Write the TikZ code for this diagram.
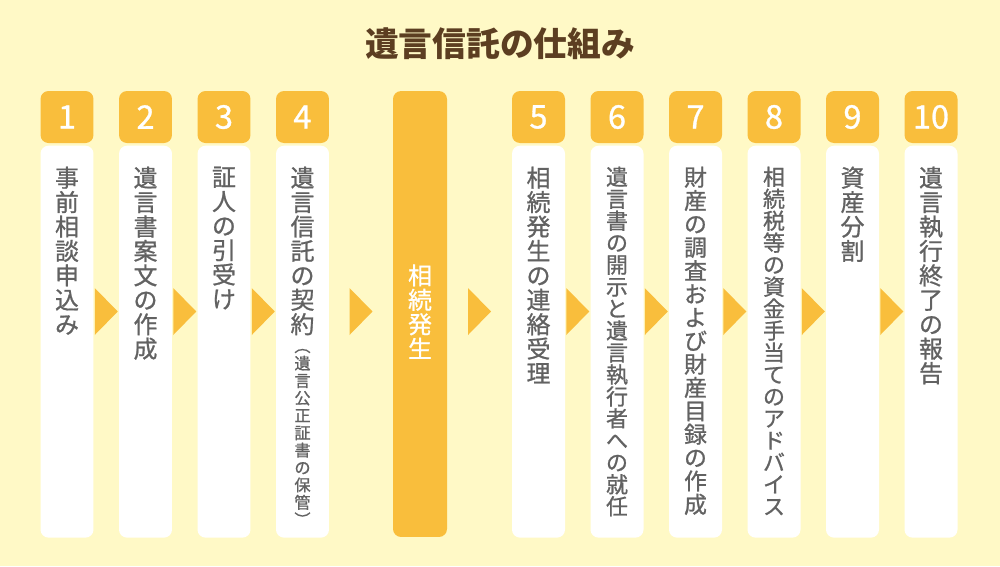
\documentclass[tikz,border=0pt]{standalone}
\usepackage{fontspec}
\setmainfont{Noto Sans CJK JP}
\newfontfamily\tatefont{Noto Sans CJK JP}[FakeBold=0.9]
\usetikzlibrary{positioning,calc}
\definecolor{bgyellow}{HTML}{FFF9C6}
\definecolor{steporange}{HTML}{F9BE3C}
\definecolor{textgray}{HTML}{626262}
\definecolor{titlebrown}{HTML}{5C3E21}
% one character per line, for vertical writing
\def\tateloop#1{\ifx#1\relax\else\hbox to 1.2em{\hss#1\hss}\expandafter\tateloop\fi}
\newcommand\tate[1]{\vbox{\lineskiplimit=-\maxdimen\tateloop#1\relax}}
\tikzset{
  numbox/.style={fill=steporange,rounded corners=0.16cm,minimum width=1.06cm,minimum height=1.04cm,inner sep=0pt,text=white,font=\tatefont\fontsize{18.5}{18.5}\selectfont},
  bodybox/.style={fill=white,rounded corners=0.16cm,minimum width=1.06cm,minimum height=7.84cm,inner sep=0pt},
  eventbox/.style={fill=steporange,rounded corners=0.16cm,minimum width=1.08cm,minimum height=8.92cm,inner sep=0pt},
  tatetext/.style={text=textgray,inner sep=0pt,font=\tatefont\fontsize{13.6}{13.9}\selectfont},
  longtext/.style={text=textgray,inner sep=0pt,font=\tatefont\fontsize{12.5}{12.5}\selectfont},
  tri/.style={fill=steporange},
}
\begin{document}
\begin{tikzpicture}[x=0.02cm,y=-0.02cm]
\useasboundingbox (0,0) rectangle (1000,566);
\fill[bgyellow] (0,0) rectangle (1000,566);
\node[text=titlebrown,font=\fontsize{19.2}{19.2}\bfseries] (title) at (500,44) {遺言信託の仕組み};
\coordinate (mid) at (0,311.5);
% steps before
\node[numbox] (n1) at (67,117) {1};
\node[numbox] (n2) at (145.5,117) {2};
\node[numbox] (n3) at (224,117) {3};
\node[numbox] (n4) at (302.5,117) {4};
\node[bodybox,below=0.04cm of n1] (w1) {};
\node[bodybox,below=0.04cm of n2] (w2) {};
\node[bodybox,below=0.04cm of n3] (w3) {};
\node[bodybox,below=0.04cm of n4] (w4) {};
\node[tatetext,anchor=north,below=0.42cm of w1.north] (t1) {\tate{事前相談申込み}};
\node[tatetext,anchor=north,below=0.42cm of w2.north] (t2) {\tate{遺言書案文の作成}};
\node[tatetext,anchor=north,below=0.42cm of w3.north] (t3) {\tate{証人の引受け}};
\node[tatetext,anchor=north,below=0.42cm of w4.north] (t4) {\tate{遺言信託の契約}};
\node[tatetext,anchor=north,below=0.26cm of t4.south,font=\tatefont\fontsize{9.2}{9.9}\selectfont] (t4b) {\tate{︵遺言公正証書の保管︶}};
% the event
\node[eventbox] (c) at (420,314) {};
\node[tatetext,text=white,anchor=north] (tc) at (420,264) {\tate{相続発生}};
% steps after
\node[numbox] (n5) at (538.5,117) {5};
\node[numbox] (n6) at (617,117) {6};
\node[numbox] (n7) at (695.5,117) {7};
\node[numbox] (n8) at (774,117) {8};
\node[numbox] (n9) at (852.5,117) {9};
\node[numbox] (n10) at (931,117) {10};
\node[bodybox,below=0.04cm of n5] (w5) {};
\node[bodybox,below=0.04cm of n6] (w6) {};
\node[bodybox,below=0.04cm of n7] (w7) {};
\node[bodybox,below=0.04cm of n8] (w8) {};
\node[bodybox,below=0.04cm of n9] (w9) {};
\node[bodybox,below=0.04cm of n10] (w10) {};
\node[tatetext,anchor=north,below=0.42cm of w5.north] (t5) {\tate{相続発生の連絡受理}};
\node[longtext,anchor=north,below=0.42cm of w6.north] (t6) {\tate{遺言書の開示と遺言執行者への就任}};
\node[longtext,anchor=north,below=0.42cm of w7.north,font=\tatefont\fontsize{13}{13.3}\selectfont] (t7) {\tate{財産の調査および財産目録の作成}};
\node[longtext,anchor=north,below=0.42cm of w8.north] (t8) {\tate{相続税等の資金手当てのアドバイス}};
\node[tatetext,anchor=north,below=0.42cm of w9.north] (t9) {\tate{資産分割}};
\node[tatetext,anchor=north,below=0.42cm of w10.north] (t10) {\tate{遺言執行終了の報告}};
% arrows
\coordinate (g1) at ($(w1.east)!.5!(w2.west)$);
\fill[tri] (g1 |- mid) ++(-11.5,-23.5) -- ++(0,47) -- ++(23,-23.5) -- cycle;
\coordinate (g2) at ($(w2.east)!.5!(w3.west)$);
\fill[tri] (g2 |- mid) ++(-11.5,-23.5) -- ++(0,47) -- ++(23,-23.5) -- cycle;
\coordinate (g3) at ($(w3.east)!.5!(w4.west)$);
\fill[tri] (g3 |- mid) ++(-11.5,-23.5) -- ++(0,47) -- ++(23,-23.5) -- cycle;
\coordinate (g4) at ($(w4.east)!.5!(c.west)$);
\fill[tri] (g4 |- mid) ++(-11.5,-23.5) -- ++(0,47) -- ++(23,-23.5) -- cycle;
\coordinate (g5) at ($(c.east)!.5!(w5.west)$);
\fill[tri] (g5 |- mid) ++(-11.5,-23.5) -- ++(0,47) -- ++(23,-23.5) -- cycle;
\coordinate (g6) at ($(w5.east)!.5!(w6.west)$);
\fill[tri] (g6 |- mid) ++(-11.5,-23.5) -- ++(0,47) -- ++(23,-23.5) -- cycle;
\coordinate (g7) at ($(w6.east)!.5!(w7.west)$);
\fill[tri] (g7 |- mid) ++(-11.5,-23.5) -- ++(0,47) -- ++(23,-23.5) -- cycle;
\coordinate (g8) at ($(w7.east)!.5!(w8.west)$);
\fill[tri] (g8 |- mid) ++(-11.5,-23.5) -- ++(0,47) -- ++(23,-23.5) -- cycle;
\coordinate (g9) at ($(w8.east)!.5!(w9.west)$);
\fill[tri] (g9 |- mid) ++(-11.5,-23.5) -- ++(0,47) -- ++(23,-23.5) -- cycle;
\coordinate (g10) at ($(w9.east)!.5!(w10.west)$);
\fill[tri] (g10 |- mid) ++(-11.5,-23.5) -- ++(0,47) -- ++(23,-23.5) -- cycle;
\end{tikzpicture}
\end{document}
